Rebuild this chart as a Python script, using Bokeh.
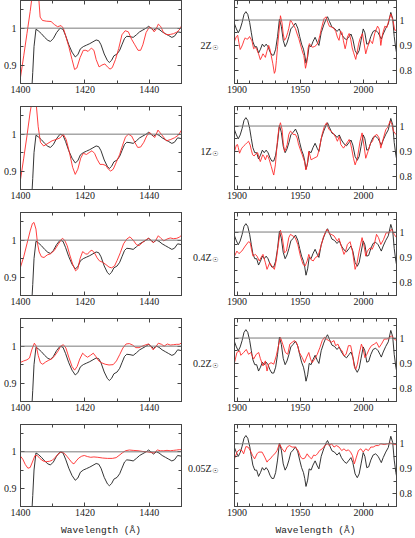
from bokeh.plotting import figure
from bokeh.models import Range1d, LinearAxis, FixedTicker, Span, CustomLabelingPolicy
from bokeh.layouts import column, row
from bokeh.embed import file_html
from bokeh.resources import INLINE

# ---------------- data ----------------
metallicities = ["2Z", "1Z", "0.4Z", "0.2Z", "0.05Z"]
sun_symbol = "\u2609"

# observed spectrum, 1400-1450 A window (black)
obs_uv1_wave = [1403.3, 1403.8, 1404.2, 1404.8, 1405.5, 1406.5, 1407.5, 1408.5, 1409.3, 1410.2,
                1411.2, 1412.3, 1413.2, 1414.0, 1415.0, 1416.0, 1417.0, 1417.8, 1418.6, 1419.5,
                1420.5, 1421.5, 1422.5, 1423.5, 1424.3, 1425.0, 1426.0, 1427.0, 1427.6, 1428.3,
                1429.0, 1430.0, 1430.8, 1431.5, 1432.3, 1433.0, 1434.0, 1435.0, 1436.0, 1437.0,
                1438.0, 1439.0, 1439.8, 1440.5, 1441.3, 1442.2, 1443.0, 1444.0, 1445.0, 1446.0,
                1447.0, 1447.8, 1448.8, 1450.0]
obs_uv1_flux = [0.80, 0.88, 0.95, 0.997, 0.993, 0.985, 0.975, 0.967, 0.964, 0.972,
                0.988, 1.000, 0.997, 0.980, 0.955, 0.935, 0.922, 0.928, 0.944, 0.950,
                0.954, 0.958, 0.963, 0.968, 0.966, 0.955, 0.930, 0.912, 0.907, 0.913,
                0.925, 0.930, 0.940, 0.955, 0.972, 0.978, 0.977, 0.975, 0.982, 0.990,
                0.995, 1.000, 1.005, 1.000, 0.994, 1.000, 0.997, 0.990, 0.985, 0.980,
                0.975, 0.978, 0.990, 0.988]

# models, 1400-1450 A window (red)
mod_uv1_wave = [
    [1400, 1401, 1402, 1403, 1403.8, 1404.8, 1405.6, 1406.1, 1406.8, 1408, 1409.5, 1410.5, 1411.5,
     1412.6, 1413.3, 1414, 1415, 1416, 1416.8, 1417.5, 1418.5, 1419.5, 1420.3, 1421, 1422, 1422.8,
     1423.5, 1424.4, 1425.3, 1426.2, 1427, 1427.8, 1428.5, 1429.5, 1430.5, 1431.5, 1432.5, 1433.5,
     1434.5, 1435.5, 1436.5, 1437.3, 1438, 1439, 1440, 1440.8, 1441.5, 1442, 1442.8, 1443.5, 1444.5,
     1445.5, 1446.5, 1447.5, 1448.5, 1449.3, 1450],
    [1400, 1401, 1402, 1403, 1403.6, 1404.3, 1404.9, 1405.5, 1406.2, 1407.2, 1408.5, 1409.8, 1411.2,
     1412.3, 1413.3, 1414.2, 1415.2, 1416.2, 1417, 1417.8, 1418.7, 1419.5, 1420.5, 1421.3, 1422.2,
     1423, 1423.8, 1424.7, 1425.6, 1426.5, 1427.3, 1428, 1428.8, 1429.8, 1430.8, 1431.7, 1432.6,
     1433.5, 1434.5, 1435.5, 1436.4, 1437.3, 1438.3, 1439.2, 1440.1, 1441, 1441.7, 1442.7, 1443.7,
     1444.6, 1445.3, 1446.5, 1447.8, 1449, 1450],
    [1400, 1401, 1402, 1403, 1403.7, 1404.2, 1404.8, 1405.3, 1405.8, 1406.5, 1407.3, 1408.3, 1409.3,
     1410.5, 1411.8, 1413, 1413.7, 1414.5, 1415.3, 1416.2, 1417.1, 1417.8, 1418.5, 1419.3, 1420.2,
     1420.8, 1421.6, 1422.2, 1423, 1423.8, 1424.5, 1425.5, 1426.5, 1427.5, 1428.3, 1429.2, 1430,
     1431, 1432, 1433, 1434, 1435, 1436, 1436.8, 1437.8, 1438.8, 1439.7, 1440.5, 1441.2, 1442,
     1442.8, 1443.6, 1444.5, 1445.5, 1446.5, 1447.5, 1448.5, 1449.3, 1450],
    [1400, 1401, 1402, 1402.8, 1403.5, 1404.3, 1404.9, 1405.5, 1406.2, 1406.9, 1407.8, 1408.8, 1409.8,
     1410.7, 1411.6, 1412.5, 1413.3, 1414.1, 1415, 1416, 1416.8, 1417.6, 1418.4, 1419.3, 1420,
     1420.8, 1421.7, 1422.6, 1423.4, 1424.3, 1425.2, 1426.3, 1427.5, 1428.8, 1429.8, 1430.8, 1431.8,
     1432.8, 1433.8, 1434.8, 1435.8, 1436.8, 1437.8, 1439, 1439.8, 1440.6, 1441.2, 1442, 1442.8,
     1443.8, 1444.6, 1445.6, 1446.5, 1447.5, 1448.5, 1449.3, 1450],
    [1400, 1400.7, 1401.5, 1402.3, 1403, 1403.7, 1404.5, 1405.2, 1406, 1407, 1408, 1409, 1409.9,
     1410.8, 1411.8, 1412.8, 1413.6, 1414.4, 1415.3, 1416, 1416.6, 1417.3, 1418.1, 1419, 1419.8,
     1420.8, 1421.8, 1422.8, 1424, 1425.5, 1427, 1428.5, 1429.7, 1430.6, 1431.6, 1432.6, 1433.8,
     1435, 1436.5, 1438, 1439.5, 1440.5, 1441.5, 1442.5, 1443.5, 1444.5, 1445.5, 1446.5, 1447.5,
     1448.5, 1449.3, 1450],
]
mod_uv1_flux = [
    [0.867, 0.925, 0.985, 1.045, 1.10, 1.13, 1.09, 1.03, 1.021, 1.019, 1.018, 1.010, 1.004,
     1.007, 1.000, 0.980, 0.950, 0.915, 0.888, 0.892, 0.920, 0.940, 0.940, 0.937, 0.946, 0.940,
     0.915, 0.895, 0.900, 0.903, 0.895, 0.889, 0.893, 0.915, 0.945, 0.982, 0.993, 0.990,
     0.970, 0.955, 0.940, 0.940, 0.955, 0.988, 1.003, 1.000, 0.990, 0.995, 1.011, 1.005, 0.987,
     0.982, 0.983, 0.985, 0.989, 0.995, 1.006],
    [0.877, 0.935, 0.995, 1.06, 1.09, 1.10, 1.08, 1.02, 0.978, 0.968, 0.975, 0.982, 0.986,
     0.990, 1.000, 0.985, 0.950, 0.910, 0.891, 0.905, 0.935, 0.948, 0.945, 0.950, 0.955,
     0.948, 0.932, 0.918, 0.918, 0.915, 0.905, 0.900, 0.905, 0.925, 0.945, 0.970, 0.992,
     1.000, 0.995, 0.978, 0.964, 0.965, 0.978, 0.995, 1.005, 0.997, 0.991, 1.011, 1.000,
     0.990, 0.982, 0.985, 0.990, 0.997, 1.011],
    [0.927, 0.955, 0.990, 1.025, 1.045, 1.048, 1.030, 0.990, 0.968, 0.955, 0.953, 0.960, 0.963,
     0.972, 0.990, 1.005, 1.000, 0.985, 0.960, 0.935, 0.917, 0.922, 0.950, 0.969, 0.963,
     0.962, 0.970, 0.973, 0.965, 0.952, 0.944, 0.940, 0.934, 0.927, 0.925, 0.930, 0.945,
     0.966, 0.990, 1.003, 1.009, 1.000, 0.988, 0.985, 0.993, 1.000, 1.005, 1.000, 0.993, 1.000,
     1.012, 1.005, 0.998, 1.003, 1.006, 1.004, 1.005, 1.008, 1.013],
    [0.956, 0.960, 0.963, 0.968, 0.990, 1.008, 1.000, 0.975, 0.955, 0.951, 0.957, 0.962, 0.966,
     0.975, 0.986, 1.000, 1.004, 0.995, 0.970, 0.945, 0.935, 0.945, 0.965, 0.981, 0.975,
     0.970, 0.975, 0.981, 0.972, 0.960, 0.955, 0.951, 0.949, 0.950, 0.960, 0.977, 0.995,
     1.006, 1.007, 1.003, 0.996, 0.996, 1.000, 1.004, 1.006, 0.998, 0.990, 0.998, 1.008,
     1.005, 1.000, 1.006, 1.003, 1.004, 1.005, 1.005, 1.009],
    [0.988, 0.980, 0.965, 0.955, 0.957, 0.972, 0.990, 0.990, 0.982, 0.975, 0.973, 0.974, 0.977,
     0.985, 0.995, 1.000, 0.996, 0.988, 0.978, 0.970, 0.967, 0.975, 0.983, 0.988, 0.990,
     0.987, 0.985, 0.986, 0.985, 0.983, 0.982, 0.982, 0.984, 0.990, 0.997, 1.003, 1.005,
     1.004, 1.003, 1.001, 1.000, 0.998, 0.997, 1.005, 1.003, 1.003, 1.004, 1.003, 1.004,
     1.005, 1.006, 1.006],
]

# observed spectrum, 1900-2025 A window (black)
obs_uv2_wave = [1898, 1899.5, 1901, 1902.5, 1904, 1905.5, 1907, 1908.5, 1910, 1911.3, 1912.5, 1914,
                1915.5, 1917, 1918.5, 1920, 1921.5, 1923, 1924.5, 1926, 1927.5, 1929, 1930.5, 1932,
                1933.5, 1935, 1936.5, 1938, 1939.5, 1941, 1942.5, 1944.3, 1946.2, 1948, 1949.5,
                1951, 1952.5, 1953.5, 1954.5, 1955.8, 1957, 1958.5, 1960, 1961.7, 1963.4, 1964.7,
                1966.5, 1968.5, 1970.5, 1971.5, 1973, 1975, 1977, 1979, 1980.8, 1982.5, 1984.5,
                1986.5, 1988.5, 1990, 1991.5, 1993.3, 1995, 1996.5, 1998, 1999.7, 2001, 2002.5,
                2004, 2005.7, 2007.5, 2009.5, 2011.5, 2013, 2014, 2015.5, 2017.5, 2019.5, 2021.5,
                2023, 2024.2, 2025.5, 2026.5]
obs_uv2_flux = [0.985, 0.965, 0.950, 0.965, 0.990, 1.022, 1.033, 1.022, 0.990, 0.950, 0.915, 0.895,
                0.895, 0.870, 0.885, 0.905, 0.895, 0.905, 0.895, 0.875, 0.862, 0.862, 0.885, 0.935,
                1.003, 0.975, 0.920, 0.895, 0.910, 0.935, 0.965, 0.975, 0.988, 0.968, 0.935,
                0.905, 0.885, 0.862, 0.830, 0.855, 0.900, 0.895, 0.915, 0.932, 0.912, 0.900,
                0.950, 0.980, 1.005, 1.013, 0.995, 0.972, 0.967, 0.955, 0.965, 0.945, 0.930,
                0.922, 0.935, 0.945, 0.925, 0.880, 0.865, 0.880, 0.920, 0.965, 0.950, 0.905,
                0.908, 0.935, 0.955, 0.960, 0.950, 0.935, 0.925, 0.945, 0.967, 0.985, 1.030,
                1.005, 0.935, 0.885, 0.860]

# models, 1900-2025 A window (red)
mod_uv2_wave = [
    [1898, 1899.5, 1900.5, 1901.5, 1902.5, 1903.5, 1904.5, 1905.5, 1906.5, 1907.5, 1908.5, 1909.9,
     1911, 1911.8, 1913.1, 1914.5, 1915.5, 1917, 1918.4, 1919.5, 1920.5, 1921.5, 1922.4, 1923.5,
     1925, 1926, 1927, 1928.2, 1929.5, 1930.3, 1931.1, 1932, 1933, 1934.3, 1935.5, 1936.5, 1937.5,
     1938.8, 1940, 1940.9, 1942.2, 1943.5, 1944.5, 1946.1, 1947.5, 1948.8, 1950, 1950.7, 1952,
     1952.8, 1954.1, 1955.2, 1956.2, 1957.2, 1958.3, 1959.4, 1961, 1962.5, 1963.9, 1965.5, 1966.6,
     1968.7, 1970.3, 1971.8, 1973, 1974.5, 1976.6, 1978, 1979.3, 1980.6, 1981.9, 1983, 1984,
     1985.4, 1986.3, 1987.2, 1988.6, 1989.8, 1991, 1992, 1993.8, 1995.1, 1996, 1997.2, 1999.1,
     2000.4, 2001.7, 2003.1, 2005.1, 2006, 2007, 2008.8, 2011, 2012.3, 2013.6, 2015, 2016.8,
     2018.4, 2020.2, 2021.5, 2023.3, 2024.6, 2026],
    [1898, 1899.5, 1900.4, 1901, 1902, 1903, 1903.8, 1905, 1906.5, 1908, 1909.1, 1910.4, 1911.3,
     1912.3, 1913.5, 1914.8, 1916.3, 1917.5, 1918.4, 1920.3, 1921.3, 1922.4, 1923.7, 1924.7,
     1925.5, 1927.1, 1928.3, 1929, 1930.3, 1931.2, 1932.1, 1933.2, 1934.3, 1935.6, 1936.5, 1937.5,
     1938.5, 1939.6, 1940.9, 1942.2, 1943.3, 1944.3, 1946.1, 1947.5, 1948.5, 1949.6, 1951.5,
     1953.3, 1954.4, 1955.4, 1956.7, 1957.6, 1958.5, 1960.7, 1963.4, 1965, 1967.2, 1969.1, 1970.8,
     1972.6, 1974.4, 1976.6, 1978, 1979.3, 1980.9, 1982, 1984.1, 1986, 1988.6, 1989.5, 1990.5,
     1992, 1993.3, 1995.1, 1997.2, 1998.8, 2000.4, 2001.7, 2003.5, 2005.3, 2007, 2008.4, 2010.5,
     2012.3, 2013.6, 2015.7, 2017.6, 2018.9, 2021, 2022.3, 2023.6, 2025.5, 2026],
    [1898, 1899.9, 1901.5, 1903.8, 1906.5, 1909.1, 1910.4, 1911.5, 1912.6, 1914.5, 1915.8, 1917.6,
     1919, 1920.5, 1922.4, 1923.7, 1925.8, 1927.5, 1929.5, 1931, 1933, 1934.3, 1935.6, 1937.5,
     1939, 1940.9, 1942.2, 1944.3, 1946, 1948, 1950.1, 1952.2, 1953.8, 1955.4, 1956.7, 1958.3,
     1960.2, 1962, 1963.9, 1966, 1968.1, 1970, 1971.3, 1972.6, 1974.4, 1976.6, 1979.3, 1980.5,
     1982.4, 1984.5, 1985.8, 1987.2, 1989.3, 1991.2, 1993.3, 1994.6, 1996.5, 1998.8, 2000.4,
     2001.7, 2003, 2005.1, 2006.8, 2008.4, 2010.2, 2011.8, 2013.6, 2015.7, 2017.8, 2020.2, 2022,
     2024.2, 2026],
    [1898, 1899.9, 1902, 1903, 1905.2, 1907.3, 1909.1, 1910.9, 1913.1, 1915.2, 1917.1, 1918.4,
     1920.5, 1922.4, 1923.7, 1925, 1926.9, 1929, 1931, 1933, 1934.3, 1936.1, 1938.2, 1940.1,
     1941.7, 1943.5, 1945.4, 1947.5, 1949.3, 1951.5, 1953.3, 1955, 1956.7, 1958.1, 1959.4, 1961.3,
     1963.4, 1965.5, 1967.3, 1969.1, 1970.8, 1972.6, 1974.4, 1976.6, 1977.9, 1979.7, 1981.4, 1983,
     1984.5, 1986.2, 1988, 1989.8, 1991.2, 1992.5, 1993.8, 1995.1, 1996.5, 1998.3, 1999.7, 2001,
     2002.6, 2004.4, 2006.2, 2008.4, 2010.2, 2012.3, 2014.1, 2016.3, 2018.4, 2020.2, 2022, 2024.2,
     2026],
    [1898, 1900, 1901.7, 1903.9, 1905.2, 1907, 1908.7, 1910.5, 1912.3, 1913.9, 1915.8, 1917.1,
     1919.8, 1921.9, 1923.7, 1925, 1926.3, 1928.2, 1929.9, 1931.6, 1933.5, 1935.6, 1937.7, 1939.6,
     1941.4, 1943.5, 1946, 1948.3, 1950.2, 1952, 1953.6, 1955.4, 1957.2, 1958.9, 1960.5, 1962.1,
     1963.5, 1965.2, 1967.3, 1969.4, 1971.3, 1973, 1974.7, 1976.6, 1978.5, 1980.6, 1982.7, 1984.5,
     1986.2, 1988, 1989.7, 1991.2, 1992.7, 1994.3, 1995.9, 1997.8, 1999.7, 2001.7, 2003.8, 2005.7,
     2007.6, 2009.7, 2011.8, 2013.6, 2016.3, 2018.9, 2021.5, 2024.2, 2026],
]
mod_uv2_flux = [
    [0.917, 0.935, 0.940, 0.910, 0.884, 0.893, 0.905, 0.920, 0.930, 0.925, 0.925, 0.935,
     0.925, 0.918, 0.887, 0.893, 0.885, 0.867, 0.844, 0.855, 0.867, 0.860, 0.853, 0.875,
     0.900, 0.885, 0.860, 0.830, 0.790, 0.800, 0.840, 0.895, 0.947, 1.017, 0.990, 0.945, 0.920,
     0.930, 0.950, 0.967, 1.000, 0.990, 0.980, 0.967, 0.945, 0.927, 0.905, 0.893, 0.870,
     0.860, 0.810, 0.835, 0.890, 0.907, 0.900, 0.893, 0.895, 0.900, 0.910, 0.940, 0.965,
     1.005, 1.013, 0.990, 0.975, 0.973, 0.967, 0.955, 0.933, 0.920, 0.956, 0.950, 0.920,
     0.887, 0.905, 0.933, 0.947, 0.925, 0.890, 0.873, 0.845, 0.878, 0.905, 0.927, 0.947,
     0.907, 0.867, 0.893, 0.920, 0.915, 0.907, 0.947, 0.976, 0.965, 0.900, 0.945, 0.976,
     0.970, 1.004, 1.024, 0.997, 0.960, 0.960],
    [0.900, 0.925, 0.927, 0.915, 0.893, 0.905, 0.913, 0.920, 0.927, 0.935, 0.940, 0.925, 0.905,
     0.887, 0.882, 0.890, 0.895, 0.872, 0.860, 0.887, 0.880, 0.867, 0.885, 0.878,
     0.867, 0.840, 0.818, 0.807, 0.847, 0.900, 0.953, 0.995, 1.013, 0.987, 0.935, 0.900,
     0.910, 0.927, 0.967, 0.980, 0.975, 0.967, 0.967, 0.953, 0.930, 0.913, 0.887,
     0.860, 0.827, 0.845, 0.900, 0.885, 0.867, 0.873, 0.880, 0.910, 0.967, 1.000, 1.013,
     0.987, 0.980, 0.967, 0.955, 0.940, 0.960, 0.927, 0.913, 0.927, 0.947, 0.935, 0.913,
     0.873, 0.847, 0.873, 0.940, 0.973, 0.920, 0.873, 0.900, 0.930, 0.940, 0.960, 0.967,
     0.953, 0.913, 0.953, 0.987, 0.993, 1.020, 1.007, 0.980, 0.967, 0.967],
    [0.905, 0.925, 0.915, 0.925, 0.945, 0.962, 0.958, 0.930, 0.905, 0.912, 0.905, 0.886,
     0.900, 0.912, 0.879, 0.853, 0.879, 0.866, 0.853, 0.890, 0.964, 1.007, 0.985, 0.918,
     0.925, 0.978, 0.991, 0.984, 0.978, 0.951, 0.905, 0.872, 0.866, 0.886, 0.912, 0.892,
     0.886, 0.900, 0.905, 0.938, 0.978, 1.001, 1.011, 0.995, 0.991, 0.985, 0.964, 0.975,
     0.945, 0.912, 0.925, 0.951, 0.962, 0.925, 0.853, 0.872, 0.925, 0.978, 0.945,
     0.905, 0.925, 0.938, 0.932, 0.951, 0.991, 0.978, 0.951, 0.970, 0.997, 0.997, 1.011,
     0.991, 0.978],
    [0.903, 0.943, 0.950, 0.932, 0.943, 0.955, 0.936, 0.943, 0.917, 0.936, 0.943, 0.920,
     0.890, 0.910, 0.870, 0.897, 0.903, 0.897, 0.930, 0.976, 1.003, 0.976, 0.943, 0.936,
     0.976, 0.983, 0.990, 0.976, 0.943, 0.923, 0.903, 0.925, 0.943, 0.917, 0.903, 0.917,
     0.936, 0.963, 0.990, 1.003, 0.995, 0.990, 0.983, 0.990, 0.970, 0.976, 0.956, 0.950,
     0.930, 0.936, 0.970, 0.970, 0.936, 0.890, 0.877, 0.897, 0.936, 0.976, 0.956, 0.923,
     0.936, 0.956, 0.970, 0.976, 0.983, 0.963, 0.976, 0.996, 0.996, 1.000, 1.009, 0.996,
     0.990],
    [0.940, 0.967, 0.976, 0.973, 0.960, 0.989, 0.987, 0.973, 0.953, 0.940, 0.960, 0.967,
     0.967, 0.947, 0.927, 0.936, 0.940, 0.953, 0.960, 0.973, 1.000, 0.980, 0.967, 0.987,
     0.993, 0.987, 0.987, 0.973, 0.947, 0.940, 0.943, 0.960, 0.947, 0.940, 0.955, 0.953,
     0.960, 0.973, 0.980, 0.993, 1.000, 0.993, 1.000, 0.987, 0.993, 0.987, 0.973, 0.980,
     0.972, 0.976, 0.967, 0.953, 0.920, 0.947, 0.973, 0.980, 0.967, 0.980, 0.973, 0.987,
     0.987, 0.993, 0.993, 1.000, 0.997, 1.000, 1.003, 0.997, 0.997],
]

# axis settings
uv1_xrange = (1400, 1450)
uv2_xrange = (1898, 2026)
uv1_yrange = (0.85, 1.075)
uv2_yrange = (0.75, 1.077)
uv1_xticks = [1400, 1420, 1440]
uv1_xminor = [1410, 1430, 1450]
uv2_xticks = [1900, 1950, 2000]
uv2_xminor = [1910, 1920, 1930, 1940, 1960, 1970, 1980, 1990, 2010, 2020]
uv1_yticks = [0.9, 1.0]
uv1_yminor = [0.85, 0.95, 1.05]
uv2_yticks = [0.8, 0.9, 1.0]
uv2_yminor = [0.75, 0.85, 0.95, 1.05]
ytick_text = {0.8: "0.8", 0.9: "0.9", 1.0: "1"}
label_level = 0.9          # metallicity labels sit level with the 0.9 tick of the right panels
xlabel = "Wavelength (Å)"

# ---------------- style / layout ----------------
FRAME = "#444444"
TXT = "#222222"
TICK_FONT = "Liberation Serif"
LABEL_FONT = "Liberation Mono"
BLACK = "#1e1e1e"
RED = "#ff2a2a"

FW_L, FW_R = 163, 162
FH = 83
L_BL, L_BR = 18, 1
R_BL, R_BR = 52, 19
L_WIDTH = L_BL + FW_L + L_BR
R_WIDTH = R_BL + FW_R + R_BR
ROW_H = 106
LAST_H = 114
SUN_DROP_PX = 2.5
SUN_GAP_PX = 16

NO_LABELS = "for (const i of indices) { indices.unset(i) }\nreturn indices"


def style_axis(ax, ticks, minor, labels, overrides=None, standoff=2):
    ax.ticker = FixedTicker(ticks=ticks, minor_ticks=minor)
    ax.major_tick_in = 4
    ax.major_tick_out = 0
    ax.minor_tick_in = 3
    ax.minor_tick_out = 0
    ax.axis_line_color = FRAME
    ax.major_tick_line_color = FRAME
    ax.minor_tick_line_color = FRAME
    if labels:
        ax.major_label_text_font = TICK_FONT
        ax.major_label_text_font_size = "10px"
        ax.major_label_text_color = TXT
        ax.major_label_standoff = standoff
        if overrides:
            ax.major_label_overrides = overrides
    else:
        ax.major_label_text_font_size = "0px"
        ax.major_label_standoff = 0
        ax.major_label_policy = CustomLabelingPolicy(code=NO_LABELS)


def text_axis(pos, text, font, size, standoff):
    ax = LinearAxis(ticker=FixedTicker(ticks=[pos], minor_ticks=[]))
    ax.axis_line_color = None
    ax.major_tick_line_color = None
    ax.minor_tick_line_color = None
    ax.major_tick_in = 0
    ax.major_tick_out = 0
    ax.major_label_standoff = standoff
    ax.major_label_text_font = font
    ax.major_label_text_font_size = size
    ax.major_label_text_color = TXT
    ax.major_label_overrides = {pos: text}
    return ax


def panel(side, i, xs_obs, ys_obs, xs_mod, ys_mod):
    last = (i == len(metallicities) - 1)
    h = LAST_H if last else ROW_H
    bb = h - FH
    if side == "L":
        xr, yr = uv1_xrange, uv1_yrange
        p = figure(width=L_WIDTH, height=h, x_range=Range1d(*xr), y_range=Range1d(*yr),
                   output_backend="svg", toolbar_location=None, y_axis_location="left",
                   min_border_left=L_BL, min_border_right=L_BR, min_border_top=0,
                   min_border_bottom=bb)
        xt, xm, yt, ym = uv1_xticks, uv1_xminor, uv1_yticks, uv1_yminor
        other, ystand = "right", 4
    else:
        xr, yr = uv2_xrange, uv2_yrange
        p = figure(width=R_WIDTH, height=h, x_range=Range1d(*xr), y_range=Range1d(*yr),
                   output_backend="svg", toolbar_location=None, y_axis_location="right",
                   min_border_left=R_BL, min_border_right=R_BR, min_border_top=0,
                   min_border_bottom=bb)
        xt, xm, yt, ym = uv2_xticks, uv2_xminor, uv2_yticks, uv2_yminor
        other, ystand = "left", 3
    p.xgrid.visible = False
    p.ygrid.visible = False
    p.outline_line_color = FRAME
    p.background_fill_color = "white"
    p.border_fill_color = "white"

    bottom = p.xaxis[0]
    main_y = p.yaxis[0]
    style_axis(bottom, xt, xm, True, standoff=2)
    style_axis(main_y, yt, ym, True, {k: ytick_text[k] for k in yt}, standoff=ystand)
    top = LinearAxis()
    style_axis(top, xt, xm, False)
    p.add_layout(top, "above")
    side_ax = LinearAxis()
    style_axis(side_ax, yt, ym, False)
    p.add_layout(side_ax, other)

    if last:
        bottom.axis_label = xlabel
        bottom.axis_label_text_font = LABEL_FONT
        bottom.axis_label_text_font_size = "9.5px"
        bottom.axis_label_text_font_style = "normal"
        bottom.axis_label_text_color = TXT
        bottom.axis_label_standoff = 6

    p.add_layout(Span(location=1.0, dimension="width", line_color="#7a7a7a", line_width=1))
    p.line(xs_obs, ys_obs, line_color=BLACK, line_width=0.9)
    p.line(xs_mod, ys_mod, line_color=RED, line_width=0.9)

    if side == "R":
        units_per_px = (yr[1] - yr[0]) / FH
        sun_pos = label_level - SUN_DROP_PX * units_per_px
        p.add_layout(text_axis(sun_pos, sun_symbol, "DejaVu Sans", "7px", SUN_GAP_PX), "left")
        p.add_layout(text_axis(label_level, metallicities[i], TICK_FONT, "10px", -2), "left")
    return p


rows = []
for i in range(len(metallicities)):
    pl = panel("L", i, obs_uv1_wave, obs_uv1_flux, mod_uv1_wave[i], mod_uv1_flux[i])
    pr = panel("R", i, obs_uv2_wave, obs_uv2_flux, mod_uv2_wave[i], mod_uv2_flux[i])
    rows.append(row(pl, pr, spacing=0))

layout = column(*rows, spacing=0)
open("out.html", "w").write(file_html(layout, INLINE))
